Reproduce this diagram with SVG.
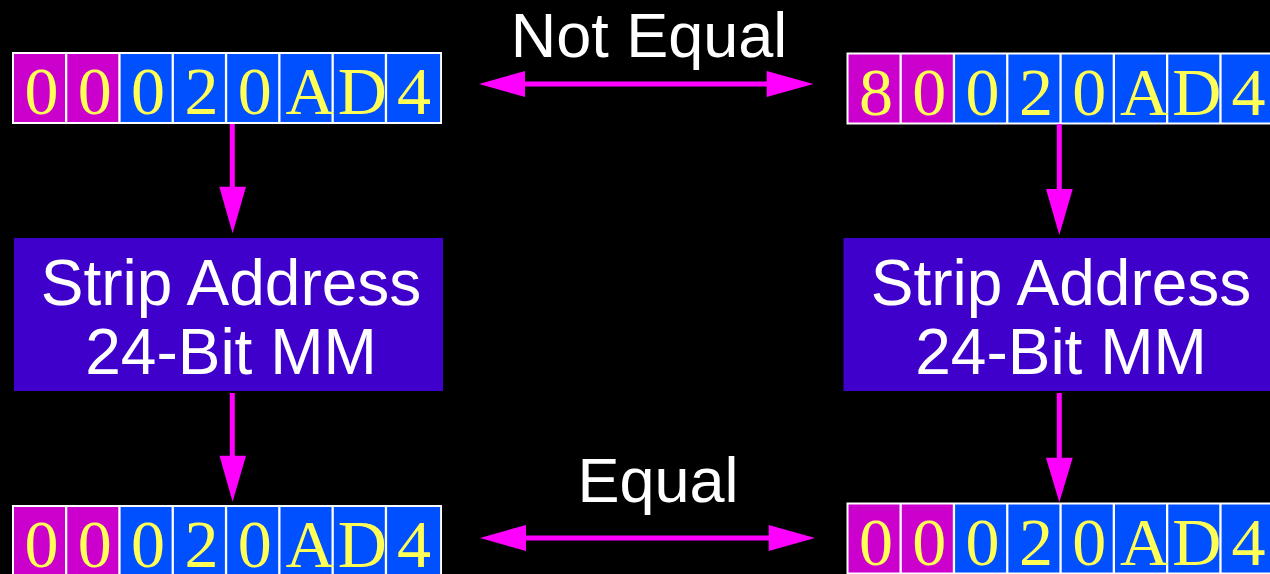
<svg xmlns="http://www.w3.org/2000/svg" width="1270" height="574" viewBox="0 0 1270 574">
<style>
.frame{fill:#FFFFFF}
.m{fill:#CC00CC}
.b{fill:#0050FF}
.d{font-family:"Liberation Serif","Times New Roman",serif;font-size:68px;fill:#FFFF55;text-anchor:middle}
.box{fill:#4000CC}
.bt{font-family:"Liberation Sans",Arial,sans-serif;font-size:64px;fill:#FFFFFF;text-anchor:middle}
.lbl{font-family:"Liberation Sans",Arial,sans-serif;font-size:63px;fill:#FFFFFF;text-anchor:middle}
.ln{stroke:#FF00FF;stroke-width:5;fill:none}
.hd{fill:#FF00FF}
</style>
<defs>
<g id="reg0">
<rect class="frame" x="0" y="0" width="430" height="72"/>
<rect class="m" x="2" y="2" width="51" height="68"/><text class="d" x="29.5" y="62">0</text>
<rect class="m" x="55.3" y="2" width="51" height="68"/><text class="d" x="82.8" y="62">0</text>
<rect class="b" x="108.6" y="2" width="51" height="68"/><text class="d" x="136.1" y="62">0</text>
<rect class="b" x="161.9" y="2" width="51" height="68"/><text class="d" x="189.4" y="62">2</text>
<rect class="b" x="215.2" y="2" width="51" height="68"/><text class="d" x="242.7" y="62">0</text>
<rect class="b" x="268.5" y="2" width="51" height="68"/><text class="d" x="298" y="62">A</text>
<rect class="b" x="321.8" y="2" width="51" height="68"/><text class="d" x="350.3" y="62">D</text>
<rect class="b" x="375.1" y="2" width="53" height="68"/><text class="d" x="402" y="62">4</text>
</g>
</defs>
<rect x="0" y="0" width="1270" height="574" fill="#000000"/>

<g id="reg-top-left" transform="translate(12,52)">
<use href="#reg0"/>
</g>

<g id="reg-top-right" transform="translate(846.5,52.5)">
<rect class="frame" x="0" y="0" width="430" height="72"/>
<rect class="m" x="2" y="2" width="51" height="68"/><text class="d" x="29.5" y="62">8</text>
<rect class="m" x="55.3" y="2" width="51" height="68"/><text class="d" x="82.8" y="62">0</text>
<rect class="b" x="108.6" y="2" width="51" height="68"/><text class="d" x="136.1" y="62">0</text>
<rect class="b" x="161.9" y="2" width="51" height="68"/><text class="d" x="189.4" y="62">2</text>
<rect class="b" x="215.2" y="2" width="51" height="68"/><text class="d" x="242.7" y="62">0</text>
<rect class="b" x="268.5" y="2" width="51" height="68"/><text class="d" x="298" y="62">A</text>
<rect class="b" x="321.8" y="2" width="51" height="68"/><text class="d" x="350.3" y="62">D</text>
<rect class="b" x="375.1" y="2" width="53" height="68"/><text class="d" x="402" y="62">4</text>
</g>

<g id="reg-bottom-left" transform="translate(12,505)">
<use href="#reg0"/>
</g>

<g id="reg-bottom-right" transform="translate(846.5,502.5)">
<use href="#reg0"/>
</g>

<g id="strip-left">
<rect class="box" x="14" y="238" width="429" height="153"/>
<text class="bt" x="231" y="305">Strip Address</text>
<text class="bt" x="231" y="374">24-Bit MM</text>
</g>

<g id="strip-right">
<rect class="box" x="843.5" y="238" width="430" height="153"/>
<text class="bt" x="1061" y="305">Strip Address</text>
<text class="bt" x="1061" y="374">24-Bit MM</text>
</g>

<g id="label-not-equal">
<text class="lbl" x="649" y="57">Not Equal</text>
</g>
<g id="label-equal">
<text class="lbl" x="658" y="502">Equal</text>
</g>

<g id="connectors">
<line class="ln" x1="232.3" y1="124" x2="232.3" y2="190"/>
<polygon class="hd" points="219.3,186.7 246,186.7 232.6,233.3"/>
<line class="ln" x1="1059.3" y1="124" x2="1059.3" y2="192"/>
<polygon class="hd" points="1046,189 1072.7,189 1059.3,235"/>
<line class="ln" x1="232.3" y1="393" x2="232.3" y2="459"/>
<polygon class="hd" points="219.5,455.7 246,455.7 232.6,501.7"/>
<line class="ln" x1="1059.3" y1="393" x2="1059.3" y2="461"/>
<polygon class="hd" points="1046,457.7 1072.7,457.7 1059.3,502.3"/>
<line class="ln" x1="520" y1="84" x2="772" y2="84"/>
<polygon class="hd" points="479,84 525,71 525,97"/>
<polygon class="hd" points="813.3,84 766.7,71 766.7,97"/>
<line class="ln" x1="520" y1="538" x2="774" y2="538"/>
<polygon class="hd" points="480,538 526,525 526,551"/>
<polygon class="hd" points="815,538 768.7,525 768.7,551"/>
</g>
</svg>
